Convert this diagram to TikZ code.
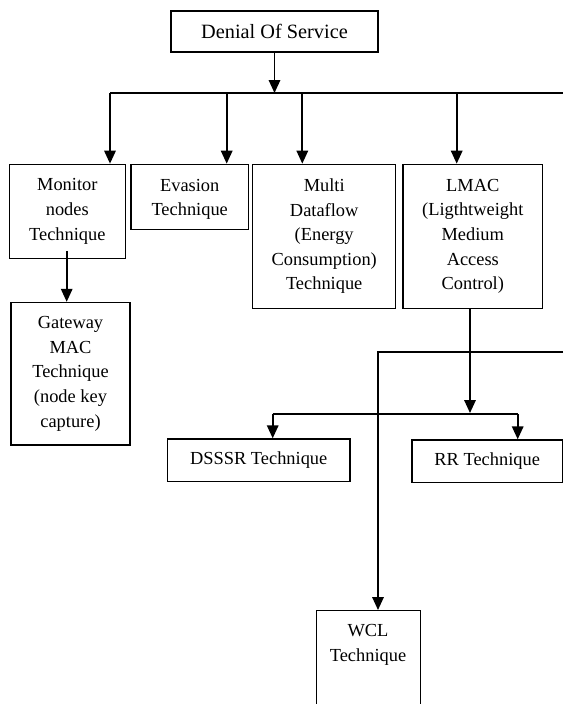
\documentclass[tikz,border=0pt]{standalone}
\usepackage{fontspec}
\setmainfont{Liberation Serif}
\usetikzlibrary{arrows.meta}
\begin{document}
\begin{tikzpicture}[x=1pt,y=-1pt,
  box/.style={draw, line width=1.3pt, inner sep=0pt, align=center,
    font=\fontsize{18.4}{24.6}\selectfont},
  lbl/.style={inner sep=0pt, align=center, font=\fontsize{18.4}{24.6}\selectfont},
  conn/.style={line width=1.7pt},
  arr/.style={conn,-{Triangle[length=13pt,width=11.5pt]}},
  bus/.style={line width=1.5pt}]
\useasboundingbox (0,0) rectangle (563,704);
\clip (0,0) rectangle (563,704);

% boxes
\node[box, minimum width=207pt, minimum height=41pt, font=\fontsize{20.3}{24}\selectfont] (dos) at (274.5,31.5) {Denial Of Service};
\node[box, minimum width=116pt, minimum height=94pt] (mon) at (67.3,211.3) {Monitor\\nodes\\Technique};
\node[box, minimum width=117.3pt, minimum height=65pt] (eva) at (189.7,196.8) {\rule{0pt}{17pt}Evasion\\Technique};
\node[box, minimum width=143pt, minimum height=144pt] (mdf) at (324.2,236.3) {Multi\\Dataflow\\(Energy\\Consumption)\\Technique};
\node[box, minimum width=139.7pt, minimum height=144pt] (lmac) at (472.8,236.3) {LMAC\\(Ligthtweight\\Medium\\Access\\Control)};
\node[box, minimum width=119pt, minimum height=142.5pt] (gw) at (70.5,373.7) {Gateway\\MAC\\Technique\\(node key\\capture)};
\node[box, minimum width=182.7pt, minimum height=42.7pt] (dsssr) at (258.7,460.3) {DSSSR Technique};
\node[box, minimum width=150.2pt, minimum height=42.7pt] (rr) at (487.2,461.3) {RR Technique};
\node[box, minimum width=104pt, minimum height=120pt, anchor=north west] (wcl) at (316,610) {};
\node[lbl] (wcltext) at (368,645) {WCL\\Technique};

% top bus
\coordinate (b1) at (274.5,93);
\coordinate (busL) at (110,93);
\coordinate (busR) at (563,93);
\coordinate (e1) at (226.7,93);
\coordinate (m1) at (302.3,93);
\coordinate (l1) at (456.7,93);
\draw[arr] (dos.south) -- (b1);
\draw[bus] (busL) -- (busR);
\draw[arr] (busL) -- (busL |- mon.north);
\draw[arr] (e1) -- (e1 |- eva.north);
\draw[arr] (m1) -- (m1 |- mdf.north);
\draw[arr] (l1) -- (l1 |- lmac.north);

% monitor -> gateway
\draw[arr] ([xshift=-0.6pt,yshift=8pt]mon.south) -- ([xshift=-0.6pt]mon.south |- gw.north);

% LMAC branch
\coordinate (b2) at (470,413);
\coordinate (d1) at (272.7,414);
\coordinate (r1) at (517.7,414);
\draw[arr] (lmac.south -| b2) -- (b2);
\draw[bus] (d1) -- (r1);
\draw[arr] (d1) -- (d1 |- dsssr.north);
\draw[arr] (r1) -- (r1 |- rr.north);

% WCL branch
\coordinate (w0) at (563,351.7);
\coordinate (w1) at (378,351.7);
\draw[arr] (w0) -- (w1) -- (w1 |- wcl.north);
\end{tikzpicture}
\end{document}
